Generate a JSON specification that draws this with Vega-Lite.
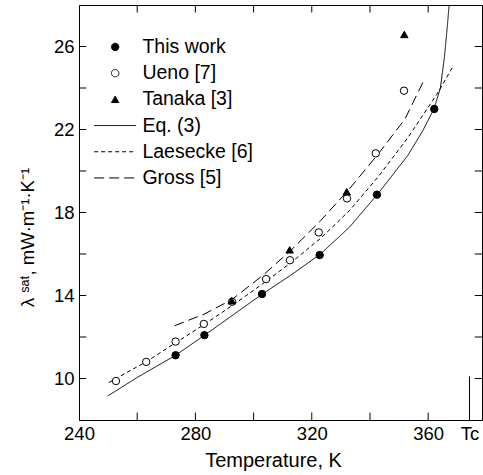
{
  "$schema": "https://vega.github.io/schema/vega-lite/v6.json",
  "width": 403,
  "height": 415,
  "autosize": {"type": "none"},
  "padding": {"left": 79, "top": 5, "right": 1, "bottom": 55},
  "config": {
    "view": {"stroke": "black", "strokeWidth": 1},
    "font": "Liberation Sans",
    "axis": {
      "domainColor": "black", "labelColor": "black", "titleColor": "black",
      "labelFontSize": 18.5, "titleFontSize": 20, "titleFontWeight": "normal",
      "labelFont": "Liberation Sans", "titleFont": "Liberation Sans",
      "labelFlush": false, "labelOverlap": false, "labelBound": false,
      "domainWidth": 1, "ticks": false, "grid": false
    },
    "legend": {
      "labelFont": "Liberation Sans", "labelFontSize": 19.5, "labelColor": "black",
      "symbolStrokeColor": "black", "symbolStrokeWidth": 1, "symbolSize": 55, "symbolOpacity": 1,
      "padding": 0, "labelOffset": 17.5, "rowPadding": 5.2
    }
  },
  "datasets": {
    "points": [
      {"series": "This work", "T": 273.2, "v": 11.12},
      {"series": "This work", "T": 283.1, "v": 12.09},
      {"series": "This work", "T": 302.9, "v": 14.07},
      {"series": "This work", "T": 322.7, "v": 15.95},
      {"series": "This work", "T": 342.4, "v": 18.86},
      {"series": "This work", "T": 362.1, "v": 22.99},
      {"series": "Ueno [7]", "T": 252.7, "v": 9.88},
      {"series": "Ueno [7]", "T": 263.1, "v": 10.8},
      {"series": "Ueno [7]", "T": 273.2, "v": 11.78},
      {"series": "Ueno [7]", "T": 282.9, "v": 12.63},
      {"series": "Ueno [7]", "T": 292.6, "v": 13.7},
      {"series": "Ueno [7]", "T": 304.3, "v": 14.79},
      {"series": "Ueno [7]", "T": 312.5, "v": 15.7},
      {"series": "Ueno [7]", "T": 322.4, "v": 17.04},
      {"series": "Ueno [7]", "T": 332.1, "v": 18.68},
      {"series": "Ueno [7]", "T": 342.0, "v": 20.85},
      {"series": "Ueno [7]", "T": 351.7, "v": 23.87},
      {"series": "Tanaka [3]", "T": 292.5, "v": 13.75},
      {"series": "Tanaka [3]", "T": 312.4, "v": 16.2},
      {"series": "Tanaka [3]", "T": 332.0, "v": 19.0},
      {"series": "Tanaka [3]", "T": 351.8, "v": 26.58}
    ],
    "curves": [
      {"series": "Eq. (3)", "T": 249.9, "v": 9.16},
      {"series": "Eq. (3)", "T": 260, "v": 10.05},
      {"series": "Eq. (3)", "T": 273.2, "v": 11.12},
      {"series": "Eq. (3)", "T": 283, "v": 12.07},
      {"series": "Eq. (3)", "T": 293, "v": 13.07},
      {"series": "Eq. (3)", "T": 303, "v": 14.07},
      {"series": "Eq. (3)", "T": 313, "v": 15.0},
      {"series": "Eq. (3)", "T": 323, "v": 16.0},
      {"series": "Eq. (3)", "T": 333, "v": 17.3},
      {"series": "Eq. (3)", "T": 343, "v": 18.95},
      {"series": "Eq. (3)", "T": 353, "v": 20.75},
      {"series": "Eq. (3)", "T": 358, "v": 21.9},
      {"series": "Eq. (3)", "T": 362, "v": 23.0},
      {"series": "Eq. (3)", "T": 364.2, "v": 24.0},
      {"series": "Eq. (3)", "T": 365.6, "v": 25.5},
      {"series": "Eq. (3)", "T": 366.6, "v": 27.0},
      {"series": "Eq. (3)", "T": 367.2, "v": 28.0},
      {"series": "Laesecke [6]", "T": 250.2, "v": 9.8},
      {"series": "Laesecke [6]", "T": 263, "v": 10.8},
      {"series": "Laesecke [6]", "T": 273, "v": 11.7},
      {"series": "Laesecke [6]", "T": 283, "v": 12.6},
      {"series": "Laesecke [6]", "T": 293, "v": 13.55},
      {"series": "Laesecke [6]", "T": 303, "v": 14.55},
      {"series": "Laesecke [6]", "T": 313, "v": 15.6},
      {"series": "Laesecke [6]", "T": 323, "v": 16.75},
      {"series": "Laesecke [6]", "T": 333, "v": 18.1},
      {"series": "Laesecke [6]", "T": 343, "v": 19.75},
      {"series": "Laesecke [6]", "T": 353, "v": 21.6},
      {"series": "Laesecke [6]", "T": 363, "v": 23.7},
      {"series": "Laesecke [6]", "T": 368.8, "v": 25.1},
      {"series": "Gross [5]", "T": 272.8, "v": 12.54},
      {"series": "Gross [5]", "T": 283, "v": 13.1},
      {"series": "Gross [5]", "T": 292.5, "v": 13.8},
      {"series": "Gross [5]", "T": 303, "v": 14.95},
      {"series": "Gross [5]", "T": 313, "v": 16.2},
      {"series": "Gross [5]", "T": 323, "v": 17.6},
      {"series": "Gross [5]", "T": 333, "v": 19.15},
      {"series": "Gross [5]", "T": 343, "v": 20.85},
      {"series": "Gross [5]", "T": 352, "v": 22.5},
      {"series": "Gross [5]", "T": 358.5, "v": 24.36}
    ],
    "tc": [{"T": 374.2, "v0": 8, "v1": 10.1}],
    "xticks": [{"T": 260}, {"T": 280}, {"T": 300}, {"T": 320}, {"T": 340}, {"T": 360}],
    "yticks": [{"v": 10}, {"v": 12}, {"v": 14}, {"v": 16}, {"v": 18}, {"v": 20}, {"v": 22}, {"v": 24}, {"v": 26}]
  },
  "layer": [
    {
      "data": {"name": "curves"},
      "mark": {"type": "line", "stroke": "black", "strokeWidth": 1},
      "encoding": {
        "x": {"field": "T", "type": "quantitative",
          "scale": {"domain": [240, 378.5], "nice": false, "zero": false},
          "axis": {"orient": "bottom", "values": [240, 280, 320, 360, 374.2],
            "labelExpr": "datum.value == 374.2 ? 'Tc' : datum.label",
            "labelPadding": 4, "title": "Temperature, K", "titleBaseline": "alphabetic", "titleY": 46.5, "titleX": 194}},
        "y": {"field": "v", "type": "quantitative",
          "scale": {"domain": [8, 28], "nice": false, "zero": false},
          "axis": {"orient": "left", "values": [10, 14, 18, 22, 26],
            "labelPadding": 5, "title": "λ ˢᵃᵗ, mW·m⁻¹·K⁻¹", "titleFontSize": 18.5, "titleAngle": 270, "titleBaseline": "middle", "titleX": -52, "titleY": 232}},
        "detail": {"field": "series", "type": "nominal"},
        "strokeDash": {"field": "series", "type": "nominal",
          "scale": {"domain": ["This work", "Ueno [7]", "Tanaka [3]", "Eq. (3)", "Laesecke [6]", "Gross [5]"],
            "range": [[1, 0], [1, 0], [1, 0], [1, 0], [4, 3], [10, 5]]},
          "legend": {"title": null, "orient": "none", "legendX": 26.4, "legendY": 32.2,
            "encode": {"symbols": {"update": {"stroke": {"value": "black"}, "strokeWidth": {"value": 1}}}}}}
      }
    },
    {
      "data": {"name": "points"},
      "mark": {"type": "point", "stroke": "black", "strokeWidth": 1, "size": 55, "opacity": 1},
      "encoding": {
        "x": {"field": "T", "type": "quantitative"},
        "y": {"field": "v", "type": "quantitative"},
        "shape": {"field": "series", "type": "nominal",
          "scale": {"domain": ["This work", "Ueno [7]", "Tanaka [3]", "Eq. (3)", "Laesecke [6]", "Gross [5]"],
            "range": ["circle", "circle", "triangle-up", "M-5.66,0H5.66", "M-5.66,0H5.66", "M-5.66,0H5.66"]},
          "legend": {"title": null, "orient": "none", "legendX": 26.4, "legendY": 32.2,
            "encode": {"symbols": {"update": {"stroke": {"value": "black"}, "strokeWidth": {"value": 1}}}}}},
        "fill": {"field": "series", "type": "nominal",
          "scale": {"domain": ["This work", "Ueno [7]", "Tanaka [3]", "Eq. (3)", "Laesecke [6]", "Gross [5]"],
            "range": ["black", "white", "black", "transparent", "transparent", "transparent"]},
          "legend": {"title": null, "orient": "none", "legendX": 26.4, "legendY": 32.2,
            "encode": {"symbols": {"update": {"stroke": {"value": "black"}, "strokeWidth": {"value": 1}}}}}}
      }
    },
    {
      "data": {"name": "tc"},
      "mark": {"type": "rule", "stroke": "black", "strokeWidth": 1},
      "encoding": {
        "x": {"field": "T", "type": "quantitative"},
        "y": {"field": "v0", "type": "quantitative"},
        "y2": {"field": "v1"}
      }
    },
    {
      "data": {"name": "xticks"},
      "mark": {"type": "rule", "stroke": "black", "strokeWidth": 1},
      "encoding": {
        "x": {"field": "T", "type": "quantitative"},
        "y": {"datum": 8, "type": "quantitative"},
        "y2": {"datum": 8.36}
      }
    },
    {
      "data": {"name": "xticks"},
      "mark": {"type": "rule", "stroke": "black", "strokeWidth": 1},
      "encoding": {
        "x": {"field": "T", "type": "quantitative"},
        "y": {"datum": 28, "type": "quantitative"},
        "y2": {"datum": 27.64}
      }
    },
    {
      "data": {"name": "yticks"},
      "mark": {"type": "rule", "stroke": "black", "strokeWidth": 1},
      "encoding": {
        "y": {"field": "v", "type": "quantitative"},
        "x": {"datum": 240, "type": "quantitative"},
        "x2": {"datum": 242.5}
      }
    },
    {
      "data": {"name": "yticks"},
      "mark": {"type": "rule", "stroke": "black", "strokeWidth": 1},
      "encoding": {
        "y": {"field": "v", "type": "quantitative"},
        "x": {"datum": 378.5, "type": "quantitative"},
        "x2": {"datum": 376}
      }
    }
  ]
}
